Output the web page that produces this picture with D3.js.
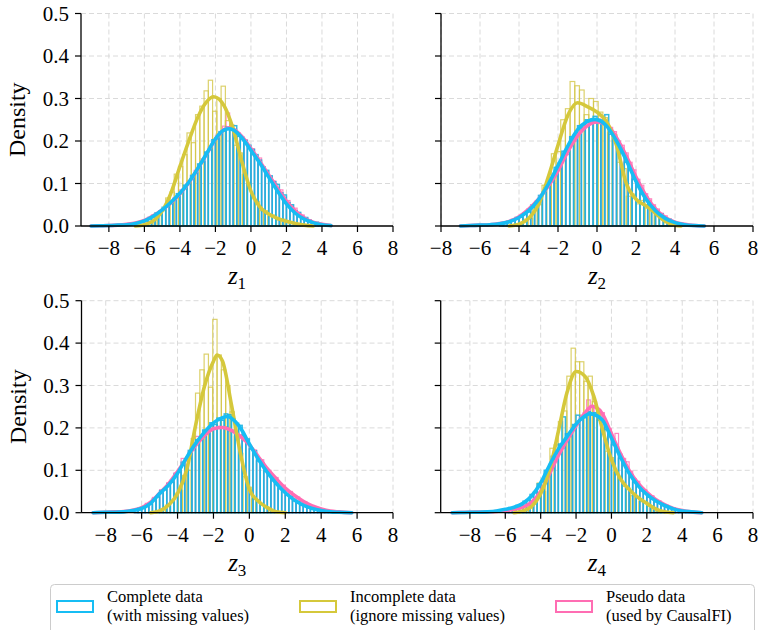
<!DOCTYPE html>
<html><head><meta charset="utf-8">
<script src="https://cdn.jsdelivr.net/npm/d3@7/dist/d3.min.js"></script>
<style>body{margin:0;background:#fff}svg{display:block}</style>
</head><body><svg id="chart" width="759" height="630"></svg>
<script>
// ---------------- DATA ----------------
const xTicks = [-8, -6, -4, -2, 0, 2, 4, 6, 8];
const yTicks = [0.0, 0.1, 0.2, 0.3, 0.4, 0.5];
const panelLabels = ["1", "2", "3", "4"];
const panelXLimits = [[-9.57, 8], [-8, 8], [-9.35, 8], [-9.65, 8]];
const seriesKeys = ["complete", "incomplete", "pseudo"];
const legendLines = [
  ["Complete data", "(with missing values)"],
  ["Incomplete data", "(ignore missing values)"],
  ["Pseudo data", "(used by CausalFI)"]
];

// histogram bins: [start, width]
const binsComplete = [[-6.0, 0.2], [-5.0, 0.2], [-6.4, 0.2], [-6.0, 0.2]];
const binsIncomplete = [[-6.0, 0.24], [-4.5, 0.24], [-5.4, 0.24], [-5.4, 0.24]];

const hist1Complete = [0.012,0.020,0.022,0.031,0.033,0.044,0.047,0.058,0.061,0.076,0.080,0.096,0.100,0.119,0.125,0.146,0.151,0.174,0.180,0.203,0.205,0.222,0.224,0.233,0.226,0.236,0.211,0.209,0.201,0.190,0.180,0.168,0.155,0.139,0.131,0.118,0.104,0.098,0.078,0.073,0.055,0.050,0.036,0.032,0.022,0.020,0.013,0.010,0.009,0.005];
const hist1Pseudo = [0.010,0.018,0.026,0.028,0.036,0.040,0.052,0.055,0.066,0.071,0.085,0.090,0.106,0.114,0.131,0.139,0.158,0.168,0.186,0.196,0.212,0.216,0.235,0.266,0.232,0.228,0.219,0.204,0.203,0.186,0.182,0.164,0.160,0.137,0.130,0.112,0.106,0.090,0.085,0.068,0.060,0.047,0.042,0.030,0.026,0.018,0.015,0.010,0.008,0.005];
const hist1Incomplete = [0.004,0.010,0.014,0.030,0.036,0.066,0.080,0.122,0.140,0.168,0.219,0.196,0.262,0.282,0.318,0.343,0.270,0.300,0.329,0.248,0.238,0.190,0.172,0.121,0.101,0.064,0.058,0.036,0.036,0.022,0.026,0.014,0.016,0.009,0.010,0.004,0.005,0.002,0.001,0.000];

const hist2Complete = [0.004,0.009,0.012,0.013,0.020,0.021,0.031,0.033,0.049,0.053,0.072,0.080,0.104,0.112,0.138,0.148,0.176,0.182,0.210,0.214,0.236,0.232,0.250,0.242,0.258,0.246,0.249,0.262,0.216,0.211,0.186,0.178,0.150,0.140,0.110,0.101,0.076,0.068,0.049,0.044,0.030,0.028,0.016,0.016,0.008,0.008,0.004,0.003];
const hist2Pseudo = [0.005,0.008,0.011,0.016,0.018,0.025,0.028,0.040,0.044,0.058,0.064,0.079,0.090,0.106,0.122,0.136,0.160,0.168,0.190,0.200,0.224,0.226,0.244,0.240,0.250,0.252,0.246,0.240,0.232,0.222,0.200,0.190,0.172,0.150,0.132,0.110,0.096,0.076,0.064,0.050,0.040,0.030,0.024,0.016,0.012,0.008,0.005,0.003];
const hist2Incomplete = [0.000,0.004,0.005,0.016,0.018,0.040,0.050,0.096,0.105,0.170,0.175,0.250,0.276,0.340,0.330,0.320,0.262,0.300,0.293,0.268,0.255,0.220,0.215,0.150,0.135,0.070,0.075,0.052,0.060,0.042,0.046,0.028,0.020,0.008,0.005,0.001];

const hist3Complete = [0.006,0.010,0.011,0.018,0.020,0.033,0.037,0.052,0.054,0.068,0.072,0.091,0.096,0.119,0.126,0.147,0.152,0.172,0.175,0.195,0.195,0.212,0.208,0.223,0.218,0.233,0.231,0.221,0.211,0.206,0.180,0.174,0.150,0.146,0.122,0.118,0.098,0.093,0.076,0.072,0.057,0.053,0.041,0.039,0.028,0.027,0.018,0.017,0.012,0.011,0.007,0.007,0.004,0.003];
const hist3Pseudo = [0.008,0.012,0.014,0.022,0.024,0.036,0.040,0.054,0.057,0.071,0.078,0.094,0.100,0.128,0.126,0.145,0.148,0.180,0.170,0.186,0.186,0.199,0.197,0.204,0.200,0.203,0.193,0.195,0.184,0.184,0.170,0.168,0.151,0.148,0.128,0.125,0.103,0.100,0.082,0.083,0.068,0.065,0.051,0.050,0.038,0.037,0.027,0.026,0.018,0.017,0.011,0.011,0.007,0.006];
const hist3Incomplete = [0.002,0.004,0.008,0.018,0.024,0.046,0.052,0.088,0.100,0.175,0.282,0.337,0.374,0.296,0.456,0.372,0.337,0.300,0.238,0.180,0.140,0.085,0.060,0.032,0.030,0.018,0.013,0.006,0.003,0.001,0.000,0.000];

const hist4Complete = [0.008,0.012,0.012,0.017,0.019,0.027,0.030,0.043,0.049,0.068,0.074,0.100,0.106,0.133,0.138,0.162,0.226,0.186,0.188,0.208,0.230,0.225,0.224,0.238,0.230,0.236,0.218,0.222,0.196,0.190,0.160,0.155,0.128,0.120,0.098,0.090,0.072,0.066,0.052,0.050,0.037,0.036,0.026,0.024,0.017,0.016,0.011,0.010,0.006,0.005,0.003,0.002];
const hist4Pseudo = [0.005,0.007,0.008,0.011,0.011,0.016,0.019,0.027,0.033,0.048,0.055,0.080,0.088,0.114,0.122,0.147,0.152,0.177,0.180,0.204,0.208,0.230,0.236,0.266,0.250,0.252,0.242,0.236,0.210,0.198,0.174,0.187,0.138,0.128,0.120,0.098,0.080,0.074,0.058,0.054,0.042,0.040,0.029,0.028,0.019,0.018,0.012,0.011,0.007,0.006,0.004,0.003];
const hist4Incomplete = [0.002,0.004,0.006,0.016,0.020,0.070,0.050,0.090,0.152,0.160,0.215,0.240,0.322,0.388,0.356,0.356,0.310,0.322,0.262,0.225,0.195,0.145,0.130,0.095,0.085,0.062,0.058,0.040,0.038,0.026,0.026,0.015,0.012,0.006,0.003,0.001];

// KDE curves [x, density]
const kde1Complete = [[-9,0],[-8.5,0.0005],[-8,0.001],[-7.5,0.002],[-7,0.003],[-6.5,0.006],[-6,0.012],[-5.5,0.023],[-5,0.038],[-4.5,0.056],[-4,0.077],[-3.5,0.103],[-3,0.135],[-2.5,0.170],[-2,0.205],[-1.5,0.226],[-1.2,0.229],[-1,0.226],[-0.5,0.207],[0,0.178],[0.5,0.148],[1,0.115],[1.5,0.082],[2,0.052],[2.5,0.030],[3,0.016],[3.5,0.008],[4,0.003],[4.5,0.001]];
const kde1Pseudo = [[-9,0],[-8.5,0.0005],[-8,0.001],[-7.5,0.002],[-7,0.004],[-6.5,0.007],[-6,0.013],[-5.5,0.024],[-5,0.038],[-4.5,0.055],[-4,0.076],[-3.5,0.102],[-3,0.134],[-2.5,0.169],[-2,0.204],[-1.5,0.227],[-1.2,0.231],[-1,0.228],[-0.5,0.210],[0,0.182],[0.5,0.152],[1,0.120],[1.5,0.088],[2,0.058],[2.5,0.035],[3,0.019],[3.5,0.009],[4,0.004],[4.5,0.001]];
const kde1Incomplete = [[-6.5,0],[-6,0.003],[-5.5,0.012],[-5,0.035],[-4.5,0.078],[-4,0.140],[-3.5,0.200],[-3,0.255],[-2.5,0.292],[-2.1,0.304],[-1.5,0.282],[-1,0.228],[-0.5,0.150],[0,0.082],[0.5,0.045],[1,0.028],[1.5,0.018],[2,0.011],[2.5,0.006],[3,0.002],[3.5,0]];

const kde2Complete = [[-7,0],[-6.5,0.001],[-6,0.002],[-5.5,0.003],[-5,0.005],[-4.5,0.010],[-4,0.020],[-3.5,0.036],[-3,0.062],[-2.5,0.098],[-2,0.142],[-1.5,0.188],[-1,0.226],[-0.5,0.246],[-0.1,0.251],[0.5,0.235],[1,0.200],[1.5,0.155],[2,0.105],[2.5,0.064],[3,0.036],[3.5,0.018],[4,0.008],[4.5,0.003],[5,0.001],[5.5,0]];
const kde2Pseudo = [[-7,0],[-6.5,0.001],[-6,0.002],[-5.5,0.003],[-5,0.006],[-4.5,0.011],[-4,0.022],[-3.5,0.040],[-3,0.063],[-2.5,0.094],[-2,0.130],[-1.5,0.175],[-1,0.212],[-0.5,0.236],[0,0.245],[0.5,0.238],[1,0.208],[1.5,0.165],[2,0.115],[2.5,0.072],[3,0.040],[3.5,0.020],[4,0.009],[4.5,0.004],[5,0.001],[5.5,0]];
const kde2Incomplete = [[-4.5,0],[-4,0.004],[-3.5,0.018],[-3,0.050],[-2.5,0.115],[-2,0.190],[-1.5,0.260],[-1,0.290],[-0.5,0.281],[0,0.268],[0.5,0.245],[1,0.190],[1.5,0.100],[2,0.063],[2.5,0.048],[3,0.030],[3.5,0.011],[4,0.002],[4.3,0]];

const kde3Complete = [[-8.7,0],[-8,0.001],[-7.5,0.001],[-7,0.002],[-6.5,0.005],[-6,0.010],[-5.5,0.022],[-5,0.045],[-4.5,0.065],[-4,0.093],[-3.5,0.130],[-3,0.163],[-2.5,0.190],[-2,0.212],[-1.5,0.224],[-1.2,0.227],[-1,0.223],[-0.5,0.200],[0,0.162],[0.5,0.126],[1,0.095],[1.5,0.069],[2,0.047],[2.5,0.030],[3,0.018],[3.5,0.010],[4,0.005],[4.5,0.002],[5,0.001],[5.7,0]];
const kde3Pseudo = [[-8.7,0],[-8,0.001],[-7.5,0.002],[-7,0.003],[-6.5,0.006],[-6,0.012],[-5.5,0.025],[-5,0.046],[-4.5,0.068],[-4,0.097],[-3.5,0.128],[-3,0.158],[-2.5,0.182],[-2,0.198],[-1.5,0.201],[-1,0.194],[-0.5,0.180],[0,0.160],[0.5,0.132],[1,0.104],[1.5,0.080],[2,0.058],[2.5,0.041],[3,0.027],[3.5,0.016],[4,0.009],[4.5,0.004],[5,0.002],[5.7,0]];
const kde3Incomplete = [[-5.5,0],[-5,0.004],[-4.5,0.018],[-4,0.045],[-3.5,0.100],[-3,0.205],[-2.5,0.298],[-2,0.357],[-1.8,0.372],[-1.5,0.358],[-1,0.255],[-0.5,0.140],[0,0.055],[0.5,0.027],[1,0.012],[1.5,0.002],[2,0]];

const kde4Complete = [[-9,0],[-8.5,0.0003],[-8,0.001],[-7.5,0.001],[-7,0.002],[-6.5,0.004],[-6,0.008],[-5.5,0.013],[-5,0.022],[-4.5,0.040],[-4,0.070],[-3.5,0.112],[-3,0.150],[-2.5,0.180],[-2,0.209],[-1.5,0.228],[-1.2,0.234],[-1,0.232],[-0.5,0.218],[0,0.176],[0.5,0.132],[1,0.093],[1.5,0.064],[2,0.043],[2.5,0.028],[3,0.017],[3.5,0.009],[4,0.004],[4.5,0.002],[5.1,0]];
const kde4Pseudo = [[-9,0],[-8,0.001],[-7,0.002],[-6.5,0.003],[-6,0.005],[-5.5,0.008],[-5,0.013],[-4.5,0.025],[-4,0.050],[-3.5,0.092],[-3,0.135],[-2.5,0.172],[-2,0.205],[-1.5,0.235],[-1.1,0.251],[-0.7,0.243],[-0.5,0.232],[0,0.186],[0.5,0.140],[1,0.100],[1.5,0.070],[2,0.048],[2.5,0.031],[3,0.019],[3.5,0.010],[4,0.005],[4.5,0.002],[5.1,0]];
const kde4Incomplete = [[-5.5,0],[-5,0.004],[-4.5,0.015],[-4,0.045],[-3.5,0.100],[-3,0.192],[-2.5,0.285],[-2,0.333],[-1.5,0.322],[-1,0.275],[-0.5,0.195],[0,0.125],[0.5,0.080],[1,0.055],[1.5,0.036],[2,0.022],[2.5,0.009],[3,0.002],[3.5,0]];

// ---------------- LAYOUT / STYLE ----------------
const panels = [
  {box: [81, 13.5, 393, 226], hist: {complete: hist1Complete, incomplete: hist1Incomplete, pseudo: hist1Pseudo}, kde: {complete: kde1Complete, incomplete: kde1Incomplete, pseudo: kde1Pseudo}, ylab: true},
  {box: [441, 13.5, 753, 226], hist: {complete: hist2Complete, incomplete: hist2Incomplete, pseudo: hist2Pseudo}, kde: {complete: kde2Complete, incomplete: kde2Incomplete, pseudo: kde2Pseudo}, ylab: false},
  {box: [81.5, 300.7, 393, 512.7], hist: {complete: hist3Complete, incomplete: hist3Incomplete, pseudo: hist3Pseudo}, kde: {complete: kde3Complete, incomplete: kde3Incomplete, pseudo: kde3Pseudo}, ylab: true},
  {box: [440.7, 300.7, 753, 512.7], hist: {complete: hist4Complete, incomplete: hist4Incomplete, pseudo: hist4Pseudo}, kde: {complete: kde4Complete, incomplete: kde4Incomplete, pseudo: kde4Pseudo}, ylab: false}
];
const lineColors = {complete: "#16bdf4", incomplete: "#d5c83b", pseudo: "#ff6db3"};
const histColors = {complete: "#1fb2e0", incomplete: "#d3c646", pseudo: "#ff72b6"};
const FONT = "'Liberation Serif','Times New Roman',serif";

const svg = d3.select("#chart");
svg.append("rect").attr("width", 759).attr("height", 630).attr("fill", "#fff");

const fmtX = d => d < 0 ? "\u2212" + Math.abs(d) : String(d);
const fmtY = d3.format(".1f");

panels.forEach((p, i) => {
  const [x0, y0, x1, y1] = p.box;
  const x = d3.scaleLinear().domain(panelXLimits[i]).range([x0, x1]);
  const y = d3.scaleLinear().domain([0, 0.5]).range([y1, y0]);
  const g = svg.append("g");

  // grid
  g.append("g").selectAll("line").data(xTicks).join("line")
    .attr("x1", d => x(d)).attr("x2", d => x(d)).attr("y1", y0).attr("y2", y1)
    .attr("stroke", "#dadada").attr("stroke-width", 1).attr("stroke-dasharray", "5,3");
  g.append("g").selectAll("line").data(yTicks.slice(1)).join("line")
    .attr("x1", x0).attr("x2", x1).attr("y1", d => y(d)).attr("y2", d => y(d))
    .attr("stroke", "#dadada").attr("stroke-width", 1).attr("stroke-dasharray", "5,3");

  // histograms
  const drawHist = (key, values, bins, opacity, sw) => {
    const [start, w] = bins;
    const data = values.map((v, j) => ({a: start + j * w, b: start + (j + 1) * w, v})).filter(d => d.v > 0);
    g.append("g").selectAll("rect").data(data).join("rect")
      .attr("x", d => x(d.a)).attr("width", d => x(d.b) - x(d.a))
      .attr("y", d => y(d.v)).attr("height", d => y(0) - y(d.v))
      .attr("fill", "none").attr("stroke", histColors[key]).attr("stroke-width", sw)
      .attr("stroke-opacity", opacity);
  };
  drawHist("pseudo", p.hist.pseudo, binsComplete[i], 0.85, 1.2);
  drawHist("incomplete", p.hist.incomplete, binsIncomplete[i], 0.8, 1.2);
  drawHist("complete", p.hist.complete, binsComplete[i], 0.9, 1.5);

  // KDE lines
  const line = d3.line().x(d => x(d[0])).y(d => y(d[1])).curve(d3.curveMonotoneX);
  ["pseudo", "incomplete", "complete"].forEach(k => {
    g.append("path").datum(p.kde[k]).attr("d", line)
      .attr("fill", "none").attr("stroke", lineColors[k]).attr("stroke-width", 3.6)
      .attr("stroke-linejoin", "round").attr("stroke-linecap", "round");
  });

  // axes spines
  g.append("line").attr("x1", x0).attr("x2", x0).attr("y1", y0).attr("y2", y1).attr("stroke", "#000").attr("stroke-width", 1.3);
  g.append("line").attr("x1", x0).attr("x2", x1).attr("y1", y1).attr("y2", y1).attr("stroke", "#000").attr("stroke-width", 1.3);

  // ticks
  g.append("g").selectAll("line").data(xTicks).join("line")
    .attr("x1", d => x(d)).attr("x2", d => x(d)).attr("y1", y1).attr("y2", y1 + 6)
    .attr("stroke", "#000").attr("stroke-width", 1.2);
  g.append("g").selectAll("text").data(xTicks).join("text")
    .attr("x", d => x(d)).attr("y", y1 + 29).attr("text-anchor", "middle")
    .attr("font-family", FONT).attr("font-size", 21).text(fmtX);
  g.append("g").selectAll("line").data(yTicks).join("line")
    .attr("x1", x0 - 6).attr("x2", x0).attr("y1", d => y(d)).attr("y2", d => y(d))
    .attr("stroke", "#000").attr("stroke-width", 1.2);
  if (p.ylab) {
    g.append("g").selectAll("text").data(yTicks).join("text")
      .attr("x", x0 - 12).attr("y", d => y(d) + 7).attr("text-anchor", "end")
      .attr("font-family", FONT).attr("font-size", 21).text(fmtY);
    g.append("text").attr("transform", `translate(${x0 - 56},${(y0 + y1) / 2}) rotate(-90)`)
      .attr("text-anchor", "middle").attr("font-family", FONT).attr("font-size", 24).text("Density");
  }
  // x label z_i
  const xl = g.append("text").attr("x", (x0 + x1) / 2).attr("y", y1 + 58).attr("text-anchor", "middle")
    .attr("font-family", FONT).attr("font-size", 25);
  xl.append("tspan").attr("font-style", "italic").text("z");
  xl.append("tspan").attr("font-size", 17).attr("dy", 5).text(panelLabels[i]);
});

// legend
const lg = svg.append("g");
lg.append("rect").attr("x", 50.5).attr("y", 584.5).attr("width", 704).attr("height", 60).attr("rx", 4)
  .attr("fill", "#fff").attr("stroke", "#cccccc").attr("stroke-width", 1);
const legendX = [57, 300, 556];
seriesKeys.forEach((k, i) => {
  const lx = legendX[i];
  lg.append("rect").attr("x", lx).attr("y", 601).attr("width", 36).attr("height", 11)
    .attr("fill", "none").attr("stroke", lineColors[k]).attr("stroke-width", 2);
  legendLines[i].forEach((s, j) => {
    lg.append("text").attr("font-family", FONT).attr("font-size", 16.5)
      .attr("x", lx + 50).attr("y", 602 + j * 19).text(s);
  });
});
</script></body></html>
